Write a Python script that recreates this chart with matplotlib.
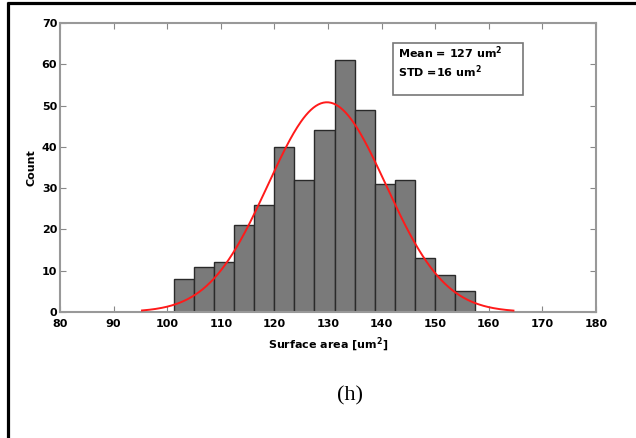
import matplotlib
matplotlib.use('Agg')
import matplotlib.pyplot as plt
from matplotlib.lines import Line2D
from matplotlib.patches import Rectangle
import numpy as np

# histogram
bin_start = 101.3
bin_width = 3.74
counts = [8, 11, 12, 21, 26, 40, 32, 44, 61, 49, 31, 32, 13, 9, 5]

# fitted normal curve (as drawn)
fit_mean = 129.8
fit_std = 11.0
fit_peak = 50.8
fit_range = [95.3, 164.6]

xticks = [80, 90, 100, 110, 120, 130, 140, 150, 160, 170, 180]
yticks = [0, 10, 20, 30, 40, 50, 60, 70]

fig = plt.figure(figsize=(6.36, 4.38), dpi=100)
ax = fig.add_axes([60 / 636, 1 - 312 / 438, 536 / 636, 289 / 438])

lefts = bin_start + bin_width * np.arange(len(counts))
ax.bar(lefts, counts, width=bin_width, align='edge', color='#7a7a7a',
       edgecolor='#2a2a2a', linewidth=1.0, zorder=2)

xs = np.linspace(fit_range[0], fit_range[1], 300)
ys = fit_peak * np.exp(-0.5 * ((xs - fit_mean) / fit_std) ** 2)
ax.plot(xs, ys, color='#ff1a1a', linewidth=1.4, zorder=3)

ax.set_xlim(80, 180)
ax.set_ylim(0, 70)
ax.set_xticks(xticks)
ax.set_yticks(yticks)
ax.tick_params(direction='in', length=4, color='#888888', top=True, right=True,
               labelsize=8)
ax.tick_params(axis='x', pad=5)
ax.tick_params(axis='y', pad=2)
for lab in ax.get_xticklabels() + ax.get_yticklabels():
    lab.set_fontweight('bold')
for s in ax.spines.values():
    s.set_color('#999999')
    s.set_linewidth(1.5)

ax.set_xlabel('Surface area [um$^\\mathbf{2}$]', fontsize=8, fontweight='bold', labelpad=5)
ax.set_ylabel('Count', fontsize=8, fontweight='bold', labelpad=4)

# stats box
ax.add_patch(Rectangle((0.621, 0.751), 0.243, 0.180, transform=ax.transAxes,
                       facecolor='white', edgecolor='#777777', linewidth=1.2, zorder=4))
ax.text(0.630, 1 - (53 - 23) / 289, 'Mean = 127 um$^\\mathbf{2}$', transform=ax.transAxes,
        fontsize=8, fontweight='bold', va='center', ha='left', zorder=5)
ax.text(0.630, 1 - (72 - 23) / 289, 'STD =16 um$^\\mathbf{2}$', transform=ax.transAxes,
        fontsize=8, fontweight='bold', va='center', ha='left', zorder=5)

fig.text(350 / 636, 1 - 396 / 438, '(h)', fontsize=16, family='Liberation Serif',
         ha='center', va='center')

# page border lines
fig.add_artist(Line2D([8 / 636, 8 / 636], [0, 1 - 1.5 / 438], color='black',
                      linewidth=2.3, solid_capstyle='butt'))
fig.add_artist(Line2D([7 / 636, 1], [1 - 2.5 / 438, 1 - 2.5 / 438], color='black',
                      linewidth=2.3, solid_capstyle='butt'))

fig.savefig('out.png', dpi=100)
